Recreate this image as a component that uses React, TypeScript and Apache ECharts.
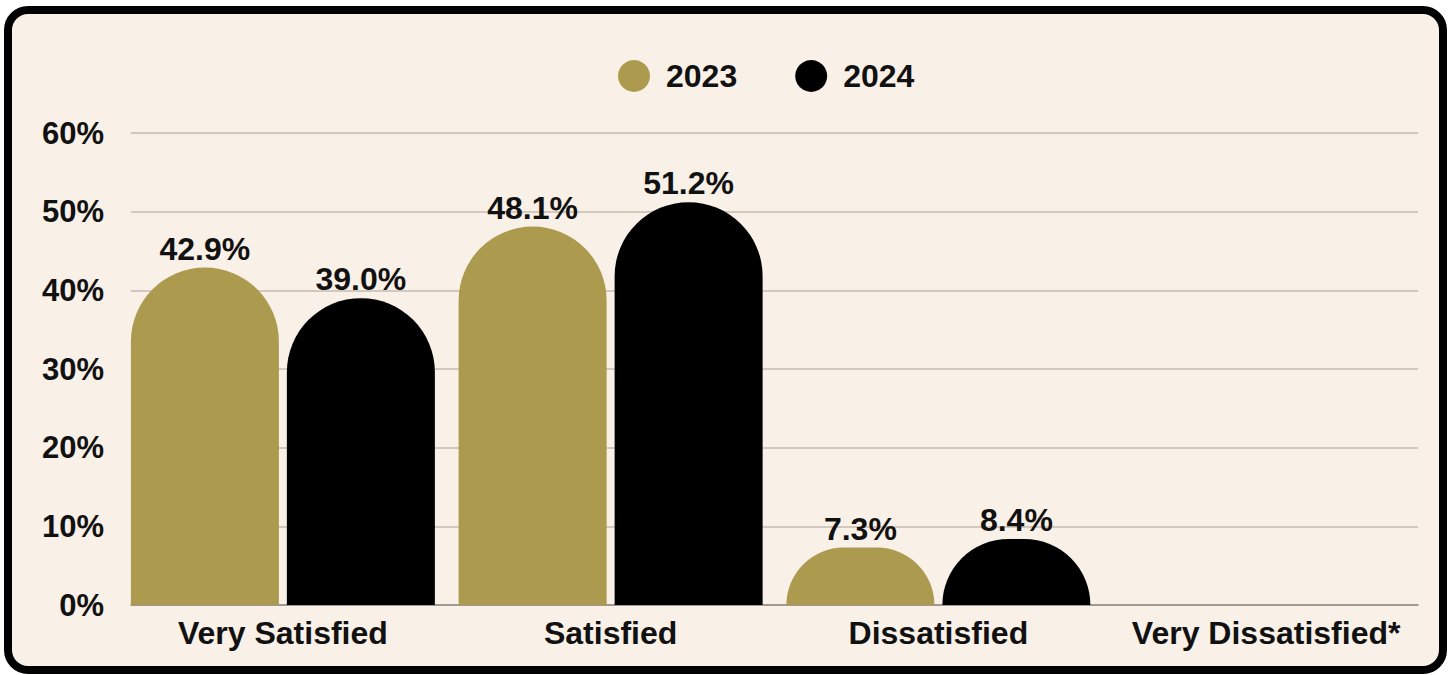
import React, { useEffect, useRef } from "react";
import * as echarts from "echarts";

const categories = ["Very Satisfied", "Satisfied", "Dissatisfied", "Very Dissatisfied*"];
const seriesNames = ["2023", "2024"];
const values2023: (number | null)[] = [42.9, 48.1, 7.3, null];
const values2024: (number | null)[] = [39.0, 51.2, 8.4, null];
const colors = ["#AC9A4E", "#000000"];
const yMin = 0;
const yMax = 60;
const yInterval = 10;

const FONT = "'Liberation Sans', Arial, sans-serif";

export default function App() {
  const ref = useRef<HTMLDivElement>(null);
  useEffect(() => {
    if (!ref.current) return;
    const chart = echarts.init(ref.current, undefined, { renderer: "svg" });
    const textBase = { fontFamily: FONT, fontWeight: "bold" as const, fontSize: 32, color: "#111" };
    const mk = (name: string, data: (number | null)[], color: string) => ({
      name,
      type: "bar",
      xAxisIndex: 0,
      yAxisIndex: 0,
      data,
      barWidth: 148,
      barGap: "5.4%",
      itemStyle: { color, borderRadius: [74, 74, 0, 0] },
      label: {
        show: true,
        position: "top",
        distance: 3,
        ...textBase,
        formatter: (p: any) => (p.value == null ? "" : Number(p.value).toFixed(1) + "%"),
      },
      z: 3,
    });
    chart.setOption({
      animation: false,
      backgroundColor: "transparent",
      color: colors,
      legend: {
        data: seriesNames,
        icon: "circle",
        itemWidth: 32,
        itemHeight: 32,
        itemGap: 58,
        left: 613,
        top: 55,
        textStyle: { ...textBase, padding: [0, 0, 0, 11] },
      },
      grid: [
        { left: 119, right: 24, top: 133, bottom: 70, containLabel: false },
        { left: 131, right: 36, top: 133, bottom: 70, containLabel: false },
      ],
      xAxis: [
        {
          type: "category",
          gridIndex: 0,
          data: categories,
          axisLine: { show: false },
          axisTick: { show: false },
          axisLabel: { ...textBase, margin: 12, interval: 0 },
        },
        {
          type: "value",
          gridIndex: 1,
          min: 0,
          max: 1,
          axisLine: { show: true, lineStyle: { color: "#8F8A84", width: 1.5 } },
          axisTick: { show: false },
          axisLabel: { show: false },
          splitLine: { show: false },
        },
      ],
      yAxis: [
        {
          type: "value",
          gridIndex: 0,
          min: yMin,
          max: yMax,
          show: false,
          splitLine: { show: false },
        },
        {
          type: "value",
          gridIndex: 1,
          min: yMin,
          max: yMax,
          interval: yInterval,
          axisLine: { show: false },
          axisTick: { show: false },
          axisLabel: { ...textBase, fontSize: 31, margin: 27, formatter: "{value}%" },
          splitLine: { show: true, lineStyle: { color: "#C4BBB1", width: 1.5 } },
        },
      ],
      series: [mk(seriesNames[0], values2023, colors[0]), mk(seriesNames[1], values2024, colors[1])],
    });
    return () => chart.dispose();
  }, []);
  return (
    <div style={{ position: "absolute", left: 0, top: 0, width: 1454, height: 675, overflow: "hidden", background: "#FFFFFF" }}>
      <div
        style={{
          position: "absolute",
          left: 4,
          top: 6,
          width: 1443,
          height: 668,
          boxSizing: "border-box",
          border: "8px solid #000",
          borderRadius: 24,
          background: "#F9F0E7",
        }}
      />
      <div ref={ref} style={{ position: "absolute", left: 0, top: 0, width: 1454, height: 675 }} />
    </div>
  );
}
